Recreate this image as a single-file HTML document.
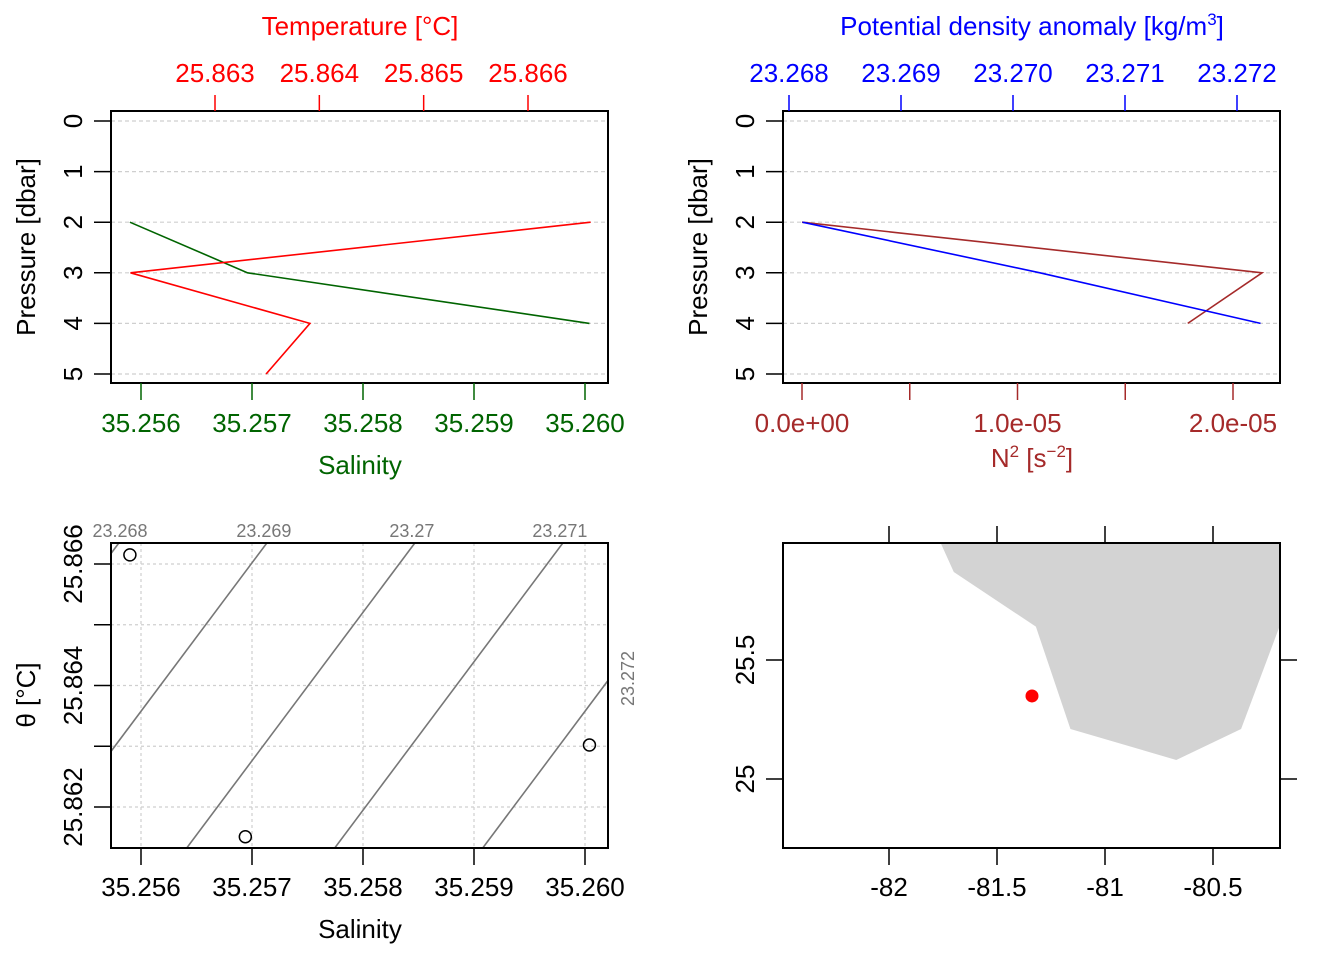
<!DOCTYPE html>
<html><head><meta charset="utf-8">
<style>
html,body{margin:0;padding:0;background:#fff;}
svg{display:block;font-family:"Liberation Sans",Arial,sans-serif;}
</style></head>
<body>
<svg id="c" width="1344" height="960" viewBox="0 0 1344 960" xmlns="http://www.w3.org/2000/svg"></svg>
<script>
// ---- Data ----
const pressureTicks = [0,1,2,3,4,5];
const salPressure = [2,3,4];
const salinity = [35.2559,35.25696,35.26004];
const tempPressure = [2,3,4,5];
const temperature = [25.8666,25.86219,25.86391,25.86349];
const densPressure = [2,3,4];
const density = [23.26812,23.27024,23.27221];
const n2Pressure = [2,3,4];
const n2 = [0,2.135e-5,1.79e-5];
const tsSalinity = [35.2559,35.25694,35.26004];
const tsTheta = [25.86615,25.86151,25.86302];
const salTicks = [35.256,35.257,35.258,35.259,35.260];
const salTickLabels = ["35.256","35.257","35.258","35.259","35.260"];
const tempTicks = [25.863,25.864,25.865,25.866];
const tempTickLabels = ["25.863","25.864","25.865","25.866"];
const densTicks = [23.268,23.269,23.270,23.271,23.272];
const densTickLabels = ["23.268","23.269","23.270","23.271","23.272"];
const n2Ticks = [0,0.5e-5,1e-5,1.5e-5,2e-5];
const n2TickLabels = ["0.0e+00","","1.0e-05","","2.0e-05"];
const thetaTicks = [25.862,25.863,25.864,25.865,25.866];
const thetaTickLabels = ["25.862","","25.864","","25.866"];
const isoLevels = [23.268,23.269,23.270,23.271,23.272];
const isoLabels = ["23.268","23.269","23.27","23.271","23.272"];
const lonTicks = [-82,-81.5,-81,-80.5];
const lonTickLabels = ["-82","-81.5","-81","-80.5"];
const latTicks = [25.5,25];
const latTickLabels = ["25.5","25"];
const landLon = [-81.76,-81.70,-81.32,-81.16,-80.67,-80.37,-80.18,-80.18];
const landLat = [25.99,25.87,25.64,25.21,25.08,25.21,25.67,25.99];
const stationLon = [-81.338];
const stationLat = [25.349];

const svg = document.getElementById('c');
const NS = 'http://www.w3.org/2000/svg';
const FS = 26;
function el(tag, attrs, parent){
  const e = document.createElementNS(NS, tag);
  for (const k in attrs) e.setAttribute(k, attrs[k]);
  (parent||svg).appendChild(e);
  return e;
}
function txt(s, x, y, attrs){
  const t = el('text', Object.assign({x:x,y:y,'text-anchor':'middle','font-size':FS}, attrs||{}));
  t.textContent = s;
  return t;
}
function lin(d0,d1,r0,r1){ return v => r0 + (v-d0)/(d1-d0)*(r1-r0); }

// ---- Scales ----
const P1 = {x0:111,x1:608,y0:111,y1:383};
const P2 = {x0:783,x1:1280,y0:111,y1:383};
const P3 = {x0:111,x1:608,y0:543,y1:848};
const P4 = {x0:783,x1:1280,y0:543,y1:848};
const yP1 = lin(0,5,121,374);
const xS = lin(35.256,35.260,141,585);
const xT = lin(25.863,25.866,215,528);
const xD = lin(23.268,23.272,789,1237);
const xN = lin(0,2e-5,802,1233);
const yTh = lin(25.862,25.866,807,564);
const xLon = lin(-82,-80.5,889,1213);
const yLat = lin(25,25.5,779,660);

function grayGridH(P, ys){
  ys.forEach(y=>{
    const l = el('line',{x1:P.x0,x2:P.x1,y1:y,y2:y,stroke:'#cfcfcf','stroke-width':1.2,'stroke-dasharray':'4,3'});
    
    
  });
}
function box(P,name){
  const r = el('rect',{x:P.x0,y:P.y0,width:P.x1-P.x0,height:P.y1-P.y0,fill:'none',stroke:'#000','stroke-width':2});
  
  
}
function leftPressureAxis(P, lx, titleX){
  pressureTicks.forEach((p)=>{
    const y = yP1(p);
    el('line',{x1:P.x0-17,x2:P.x0,y1:y,y2:y,stroke:'#000','stroke-width':1.5});
    const t = txt(String(p), 0, 0, {transform:`translate(${lx},${y}) rotate(-90)`});
    
    
  });
  const t = txt('Pressure [dbar]',0,0,{transform:`translate(${titleX},247) rotate(-90)`,'font-size':FS});
  
  
}
function polyline(xs, ys, color, name){
  const pts = xs.map((x,i)=>x+','+ys[i]).join(' ');
  const l = el('polyline',{points:pts,fill:'none',stroke:color,'stroke-width':1.6});
  
  
}
function topAxis(P, ticks, labels, sc, color, name){
  ticks.forEach((v,i)=>{
    el('line',{x1:sc(v),x2:sc(v),y1:P.y0-16,y2:P.y0,stroke:color,'stroke-width':1.5});
    const t = txt(labels[i], sc(v), 82, {fill:color});
    
    
  });
}
function bottomAxis(P, ticks, labels, sc, color, name, ly){
  ticks.forEach((v,i)=>{
    el('line',{x1:sc(v),x2:sc(v),y1:P.y1,y2:P.y1+17,stroke:color,'stroke-width':1.5});
    if (labels[i]) {
      const t = txt(labels[i], sc(v), ly, {fill:color});
      
      
    }
  });
}

// ---- Panel 1: T & S profile ----
grayGridH(P1, pressureTicks.map(yP1));
polyline(salinity.map(xS), salPressure.map(yP1), '#006400', 'salinity-profile-line');
polyline(temperature.map(xT), tempPressure.map(yP1), '#ff0000', 'temperature-profile-line');
box(P1,'ts-profile-panel');
leftPressureAxis(P1, 82, 35);
topAxis(P1, tempTicks, tempTickLabels, xT, '#ff0000', 'temperature-tick-label');
bottomAxis(P1, salTicks, salTickLabels, xS, '#006400', 'salinity-tick-label', 432);
let t = txt('Temperature [°C]',360,35,{fill:'#ff0000'});
 
t = txt('Salinity',360,474,{fill:'#006400'});
 

// ---- Panel 2: density & N2 profile ----
grayGridH(P2, pressureTicks.map(yP1));
polyline(n2.map(xN), n2Pressure.map(yP1), '#a52a2a', 'n2-profile-line');
polyline(density.map(xD), densPressure.map(yP1), '#0000ff', 'density-profile-line');
box(P2,'density-profile-panel');
leftPressureAxis(P2, 754, 707);
topAxis(P2, densTicks, densTickLabels, xD, '#0000ff', 'density-tick-label');
bottomAxis(P2, n2Ticks, n2TickLabels, xN, '#a52a2a', 'n2-tick-label', 432);
t = el('text',{x:1032,y:35,'text-anchor':'middle','font-size':FS,fill:'#0000ff'});
t.innerHTML = 'Potential density anomaly [kg/m<tspan dy="-10" font-size="17">3</tspan><tspan dy="10">]</tspan>';
 
t = el('text',{x:1032,y:467,'text-anchor':'middle','font-size':FS,fill:'#a52a2a'});
t.innerHTML = 'N<tspan dy="-10" font-size="17">2</tspan><tspan dy="10"> [s</tspan><tspan dy="-10" font-size="17">−2</tspan><tspan dy="10">]</tspan>';
 

// ---- Panel 3: TS diagram ----
const clip = el('clipPath',{id:'clip3'});
el('rect',{x:P3.x0,y:P3.y0,width:P3.x1-P3.x0,height:P3.y1-P3.y0},clip);
salTicks.forEach(v=>{
  el('line',{x1:xS(v),x2:xS(v),y1:P3.y0,y2:P3.y1,stroke:'#cfcfcf','stroke-width':1.2,'stroke-dasharray':'3,3'});
});
thetaTicks.forEach(v=>{
  el('line',{x1:P3.x0,x2:P3.x1,y1:yTh(v),y2:yTh(v),stroke:'#cfcfcf','stroke-width':1.2,'stroke-dasharray':'3,3'});
});
const kS = 0.75, kT = 0.307, S0 = 35.256414, T0 = 25.86133, sig0 = 23.270;
const Sat = (sig, T) => S0 + (sig - sig0 + kT*(T - T0))/kS;
const thetaBottom = 25.862 - (P3.y1-807)/60.75*0.001;
const thetaTop = 25.862 + (807-P3.y0)/60.75*0.001;
const Sright = 35.256 + (P3.x1-141)/111000;
isoLevels.forEach((lev,i)=>{
  const l = el('line',{x1:xS(Sat(lev,thetaBottom)),y1:P3.y1,x2:xS(Sat(lev,thetaTop)),y2:P3.y0,stroke:'#777','stroke-width':1.6,'clip-path':'url(#clip3)'});
  
  
  const sTop = Sat(lev,thetaTop);
  let lab;
  if (sTop <= Sright) {
    lab = txt(isoLabels[i], Math.max(xS(sTop)-3,120), 537, {fill:'#777','font-size':18});
  } else {
    const Tr = T0 + (kS*(Sright-S0) - (lev-sig0))/kT;
    lab = txt(isoLabels[i],0,0,{fill:'#777','font-size':18,transform:`translate(634,${yTh(Tr)-2}) rotate(-90)`});
  }
  
  
});
tsSalinity.forEach((s,i)=>{
  const c = el('circle',{cx:xS(s),cy:yTh(tsTheta[i]),r:6,fill:'none',stroke:'#000','stroke-width':1.5});
  
  
});
box(P3,'ts-diagram-panel');
bottomAxis(P3, salTicks, salTickLabels, xS, '#000', 'salinity-tick-label', 896);
thetaTicks.forEach((v,i)=>{
  el('line',{x1:P3.x0-17,x2:P3.x0,y1:yTh(v),y2:yTh(v),stroke:'#000','stroke-width':1.5});
  if (thetaTickLabels[i]) {
    const tt = txt(thetaTickLabels[i],0,0,{transform:`translate(82,${yTh(v)}) rotate(-90)`});
     
  }
});
t = txt('θ [°C]',0,0,{transform:'translate(35,695) rotate(-90)'});
 
t = txt('Salinity',360,938);
 

// ---- Panel 4: map ----
const clip4 = el('clipPath',{id:'clip4'});
el('rect',{x:P4.x0,y:P4.y0,width:P4.x1-P4.x0,height:P4.y1-P4.y0},clip4);
const land = el('polygon',{points:landLon.map((lo,i)=>xLon(lo)+','+yLat(landLat[i])).join(' '),fill:'#d3d3d3',stroke:'none','clip-path':'url(#clip4)'});


stationLon.forEach((lo,i)=>{
  const c = el('circle',{cx:xLon(lo),cy:yLat(stationLat[i]),r:6.5,fill:'#ff0000'});
  
  
});
box(P4,'map-panel');
lonTicks.forEach((v,i)=>{
  el('line',{x1:xLon(v),x2:xLon(v),y1:P4.y1,y2:P4.y1+17,stroke:'#000','stroke-width':1.5});
  el('line',{x1:xLon(v),x2:xLon(v),y1:P4.y0-17,y2:P4.y0,stroke:'#000','stroke-width':1.5});
  const tt = txt(lonTickLabels[i], xLon(v), 896);
   
});
latTicks.forEach((v,i)=>{
  el('line',{x1:P4.x0-17,x2:P4.x0,y1:yLat(v),y2:yLat(v),stroke:'#000','stroke-width':1.5});
  el('line',{x1:P4.x1,x2:P4.x1+17,y1:yLat(v),y2:yLat(v),stroke:'#000','stroke-width':1.5});
  const tt = txt(latTickLabels[i],0,0,{transform:`translate(754,${yLat(v)}) rotate(-90)`});
   
});
</script>
</body></html>
